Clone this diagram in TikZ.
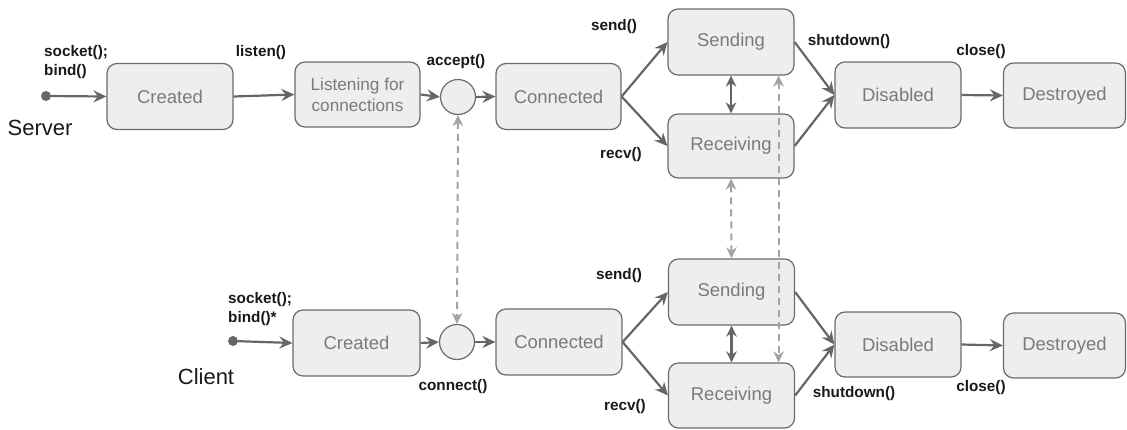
\documentclass[tikz,border=0pt]{standalone}
\usepackage{fontspec}
\setmainfont{Liberation Sans}
\usetikzlibrary{arrows.meta}
\definecolor{boxfill}{HTML}{EEEEEE}
\definecolor{boxline}{HTML}{6B6B6B}
\definecolor{boxtext}{HTML}{7A7A7A}
\definecolor{flow}{HTML}{666666}
\definecolor{link}{HTML}{A3A3A3}
\tikzset{
  state/.style={draw=boxline, fill=boxfill, line width=1.2pt, rounded corners=10pt,
    text=boxtext, font=\fontsize{18.5}{21}\selectfont, align=center,
    minimum width=126pt, minimum height=66pt, inner sep=0pt},
  junction/.style={circle, draw=boxline, fill=boxfill, line width=1.2pt,
    minimum size=35pt, inner sep=0pt},
  startdot/.style={circle, fill=flow, minimum size=10pt, inner sep=0pt},
  call/.style={font=\fontsize{15.3}{19}\selectfont\bfseries, text=black!90, inner sep=0pt},
  side/.style={font=\fontsize{22}{24}\selectfont, text=black!90, inner sep=0pt},
  tip/.style={Stealth[length=13pt,width=12pt,inset=4.5pt]},
  trans/.style={draw=flow, line width=2.2pt, -{Stealth[length=13pt,width=12pt,inset=4.5pt]}},
  both/.style={draw=flow, line width=2.2pt, {Stealth[length=11pt,width=10.5pt,inset=3.5pt]}-{Stealth[length=11pt,width=10.5pt,inset=3.5pt]}},
  peer/.style={draw=link, line width=2pt, dash pattern=on 7pt off 5pt,
    {Stealth[length=11pt,width=10.5pt,inset=3.5pt]}-{Stealth[length=11pt,width=10.5pt,inset=3.5pt]}}
}
\begin{document}
\begin{tikzpicture}[x=1pt,y=-1pt]
\useasboundingbox (0,0) rectangle (1127,429);

% ---------- server side ----------
\node[startdot] (sdot) at (46,96) {};
\node[state] (sCreated) at (170,96.5) {Created};
\node[state, minimum width=125pt, minimum height=65pt, font=\fontsize{17.2}{21}\selectfont] (sListen) at (357.5,94.5) {Listening for\\connections};
\node[junction] (sCirc) at (458,97) {};
\node[state, minimum width=125pt] (sConn) at (558.5,96.5) {Connected};
\node[state] (sSend) at (731,42) {Sending};
\node[state, minimum height=64pt] (sRecv) at (731,146) {Receiving};
\node[state] (sDis) at (898,95) {Disabled};
\node[state, minimum width=122pt, minimum height=65pt] (sDes) at (1064.5,95.5) {Destroyed};

\node[side] (sLabel) at (40,128) {Server};
\node[call, anchor=north west, align=left] (sInit) at (44,45) {socket();\\bind()};
\node[call] (sListenCall) at (261,53) {listen()};
\node[call] (sAccept) at (456,62) {accept()};
\node[call] (sSendCall) at (614,27) {send()};
\node[call] (sRecvCall) at (621,155) {recv()};
\node[call] (sShut) at (849,42) {shutdown()};
\node[call] (sClose) at (981,52) {close()};

\draw[trans] (sdot) -- (sCreated.west);
\draw[trans] (sCreated.east) -- (sListen.west);
\draw[trans] (sListen.east) -- (sCirc.west);
\draw[trans] (sCirc.east) -- (sConn.west);
\draw[trans] (sConn.east) -- (sSend.west);
\draw[trans] (sConn.east) -- (sRecv.west);
\draw[trans] (sSend.east) -- (sDis.west);
\draw[trans] (sRecv.east) -- (sDis.west);
\draw[trans] (sDis.east) -- (sDes.west);
\draw[both] (sSend.south) -- (sRecv.north);

% ---------- client side ----------
\node[startdot] (cdot) at (233,341) {};
\node[state, minimum width=127pt] (cCreated) at (356.5,343) {Created};
\node[junction] (cCirc) at (457,342) {};
\node[state] (cConn) at (559,342) {Connected};
\node[state] (cSend) at (731.5,292) {Sending};
\node[state, minimum height=65pt] (cRecv) at (731.5,395.5) {Receiving};
\node[state, minimum height=65pt] (cDis) at (898,344.5) {Disabled};
\node[state, minimum width=122pt, minimum height=65pt] (cDes) at (1064.5,345.5) {Destroyed};

\node[side] (cLabel) at (206,377) {Client};
\node[call, anchor=north west, align=left] (cInit) at (228,292) {socket();\\bind()*};
\node[call] (cConnect) at (453,387) {connect()};
\node[call] (cSendCall) at (619,276) {send()};
\node[call] (cRecvCall) at (625,407) {recv()};
\node[call] (cShut) at (854,394) {shutdown()};
\node[call] (cClose) at (981,388) {close()};

\draw[trans] (cdot) -- (cCreated.west);
\draw[trans] (cCreated.east) -- (cCirc.west);
\draw[trans] (cCirc.east) -- (cConn.west);
\draw[trans] (cConn.east) -- (cSend.west);
\draw[trans] (cConn.east) -- (cRecv.west);
\draw[trans] (cSend.east) -- (cDis.west);
\draw[trans] (cRecv.east) -- (cDis.west);
\draw[trans] (cDis.east) -- (cDes.west);
\draw[both] (cSend.south) -- (cRecv.north);

% ---------- links between the two sides ----------
\draw[peer] (sCirc.south) -- (cCirc.north);
\draw[peer] (sRecv.south) -- (cSend.north);
\coordinate (upEnd) at ([xshift=-16pt]sSend.south east);
\coordinate (downEnd) at (upEnd |- cRecv.north);
\draw[peer] (upEnd) -- (downEnd);
\end{tikzpicture}
\end{document}
